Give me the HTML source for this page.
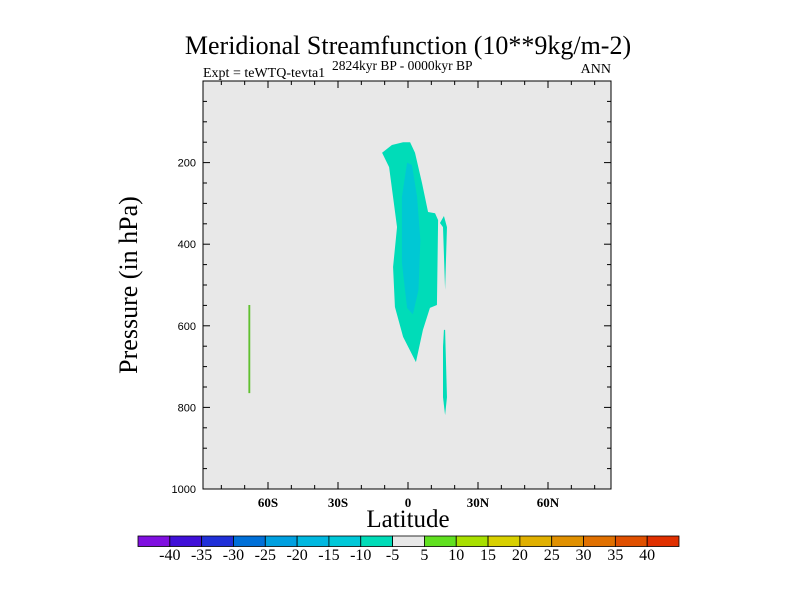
<!DOCTYPE html>
<html><head><meta charset="utf-8"><style>
body{margin:0;background:#fff;}
svg text{font-family:"Liberation Serif",serif;}
</style></head><body>
<svg id="chart" width="800" height="600" viewBox="0 0 800 600" xmlns="http://www.w3.org/2000/svg">
<text x="408" y="54" font-size="26" text-anchor="middle">Meridional Streamfunction (10**9kg/m-2)</text>
<text x="203" y="77" font-size="14">Expt = teWTQ-tevta1</text>
<text x="332" y="70" font-size="13.5">2824kyr BP - 0000kyr BP</text>
<text x="611" y="73" font-size="14" text-anchor="end">ANN</text>
<rect x="203" y="81" width="408" height="408" fill="#e8e8e8"/>
<g id="marks"></g>
<rect x="203" y="81" width="408" height="408" fill="none" stroke="#000" stroke-width="1"/>
<g id="axes"></g>
<text x="408" y="527" font-size="25" text-anchor="middle">Latitude</text>
<text transform="translate(137,285) rotate(-90)" font-size="26" text-anchor="middle">Pressure (in hPa)</text>
<g id="colorbar"></g>
</svg>
<script>
const xTicks=[-60,-30,0,30,60];
const xTickLabels=["60S","30S","0","30N","60N"];
const yTicks=[200,400,600,800,1000];
const levels=[-40,-35,-30,-25,-20,-15,-10,-5,5,10,15,20,25,30,35,40];
const levelColors=["#8010e0","#4010d8","#2030d8","#0070d8","#00a0e0","#00b8e0","#00c8d8","#00dcb8","#e8e8e8","#60e020","#a8e000","#d8d000","#e0b000","#e09000","#e07000","#e05000","#e03000"];
// contour regions: [lat, pressure]
const regionOuter=[[-11.1,176],[-6.9,157],[-2.1,150],[0.9,150],[3.0,176],[6.0,250],[8.6,321],[11.6,324],[12.9,341],[12.4,549],[9.4,556],[6.4,610],[3.4,689],[-2.1,627],[-5.6,554],[-6.4,456],[-4.7,358],[-8.1,211]];
const regionInner=[[-0.4,200],[1.7,206],[3.9,284],[5.3,390],[4.5,512],[2.1,572],[-0.4,556],[-2.6,446],[-2.6,284]];
const regionRightUpper=[[13.7,348],[15.4,331],[16.7,358],[15.9,512],[15,358]];
const regionRightLower=[[15.4,610],[15.9,610],[16.7,775],[15.9,819],[15,775],[15,652]];
const regionSouth=[[-68.4,549],[-67.6,549],[-67.6,765],[-68.4,765]];
const regions=[[regionOuter,"#00dcb8","region-minus5-main"],[regionInner,"#00c8d4","region-minus10-core"],[regionRightUpper,"#00dcb8","region-minus5-upper-right"],[regionRightLower,"#00dcb8","region-minus5-lower-right"],[regionSouth,"#60c030","region-plus5-south"]];

const NS="http://www.w3.org/2000/svg";
const x=lat=>408+lat*70/30;
const y=p=>81+p*0.408;
function mk(tag,attrs,parent){const e=document.createElementNS(NS,tag);for(const k in attrs)e.setAttribute(k,attrs[k]);parent.appendChild(e);return e;}
const marks=document.getElementById('marks');
regions.forEach(r=>{
  const el=mk('polygon',{points:r[0].map(d=>x(d[0])+','+y(d[1])).join(' '),fill:r[1]},marks);
  
  
});
const axes=document.getElementById('axes');
for(let lat=-80;lat<=80;lat+=10){
  const major=lat%30===0;const L=major?7:4;
  [[489,489-L],[81,81+L]].forEach(s=>{const t=mk('line',{x1:x(lat),x2:x(lat),y1:s[0],y2:s[1],stroke:'#000'},axes);
  
  });
}
for(let p=50;p<1000;p+=50){
  const major=p%200===0;const L=major?7:4;
  [[203,203+L],[611,611-L]].forEach(s=>{const t=mk('line',{x1:s[0],x2:s[1],y1:y(p),y2:y(p),stroke:'#000'},axes);
  
  });
}
xTicks.forEach((v,i)=>{const t=mk('text',{x:x(v),y:507,'font-size':13,'font-weight':'bold','text-anchor':'middle'},axes);t.textContent=xTickLabels[i];

});
yTicks.forEach(v=>{const t=mk('text',{x:196,y:y(v)+4,'font-size':11,'text-anchor':'end',style:'font-family:"Liberation Sans",sans-serif'},axes);t.textContent=v;

});
const cb=document.getElementById('colorbar');
const cbx=138,cbw=(679-138)/levelColors.length;
levelColors.forEach((c,i)=>{const r=mk('rect',{x:cbx+i*cbw,y:536,width:cbw,height:10.5,fill:c,stroke:'#000','stroke-width':0.8},cb);

});
levels.forEach((v,i)=>{const t=mk('text',{x:cbx+(i+1)*cbw,y:560,'font-size':16,'text-anchor':'middle'},cb);t.textContent=v;

});
</script>
</body></html>
